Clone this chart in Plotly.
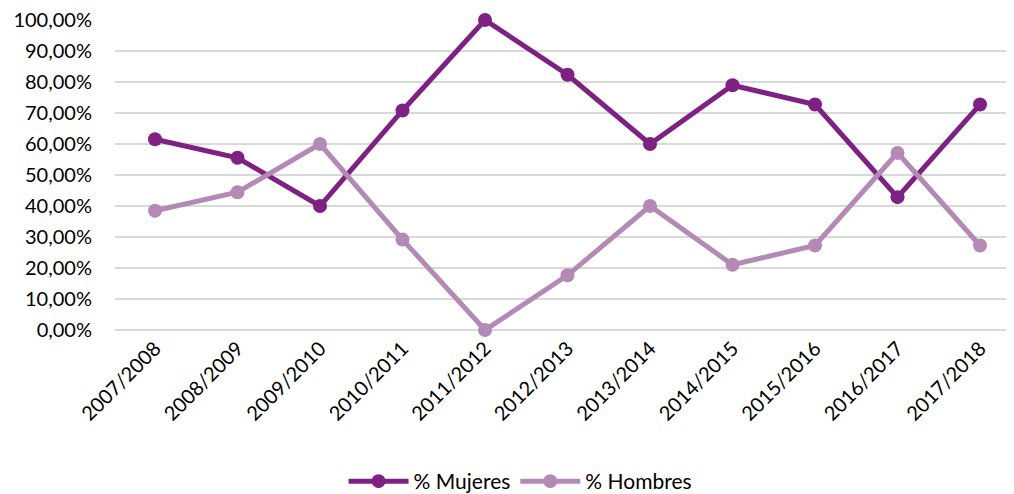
import plotly.graph_objects as go

categories = ["2007/2008", "2008/2009", "2009/2010", "2010/2011", "2011/2012", "2012/2013",
              "2013/2014", "2014/2015", "2015/2016", "2016/2017", "2017/2018"]
mujeres = [61.54, 55.56, 40.00, 70.83, 100.00, 82.35, 60.00, 78.95, 72.73, 42.86, 72.73]
hombres = [38.46, 44.44, 60.00, 29.17, 0.00, 17.65, 40.00, 21.05, 27.27, 57.14, 27.27]
y_ticks = [0, 10, 20, 30, 40, 50, 60, 70, 80, 90, 100]
y_labels = [f"{v:.2f}".replace(".", ",") + "%" for v in y_ticks]

FONT = "Lato, Calibri, Carlito, sans-serif"

fig = go.Figure()
fig.add_trace(go.Scatter(x=categories, y=mujeres, name="% Mujeres", mode="lines+markers",
                         line=dict(color="#7E2182", width=5),
                         marker=dict(size=14, color="#7E2182"), cliponaxis=False))
fig.add_trace(go.Scatter(x=categories, y=hombres, name="% Hombres", mode="lines+markers",
                         line=dict(color="#B38AB6", width=5),
                         marker=dict(size=14, color="#B38AB6"), cliponaxis=False))

fig.update_layout(
    width=1014, height=494,
    margin=dict(l=107, r=0, t=12, b=172, autoexpand=False),
    plot_bgcolor="white", paper_bgcolor="white",
    font=dict(family=FONT, size=20, color="#000000"),
    showlegend=True,
    legend=dict(orientation="h", xref="container", x=0.505, xanchor="center",
                yref="container", y=0.0, yanchor="bottom",
                font=dict(size=21), itemwidth=60, traceorder="normal"),
    xaxis=dict(range=[-0.485, 10.509], tickangle=-45, showgrid=False, showline=False,
               ticks="", tickfont=dict(size=20), ticklabelstandoff=2, automargin=False),
    yaxis=dict(range=[0, 100.01], tickvals=y_ticks, ticktext=y_labels,
               showgrid=True, gridcolor="#D9D9D9", gridwidth=1.5,
               zeroline=True, zerolinecolor="#D9D9D9", zerolinewidth=1.5,
               showline=False, ticks="", tickfont=dict(size=20), ticklabelstandoff=22,
               ticklabeloverflow="allow", automargin=False),
)

fig.write_html("out.html")
